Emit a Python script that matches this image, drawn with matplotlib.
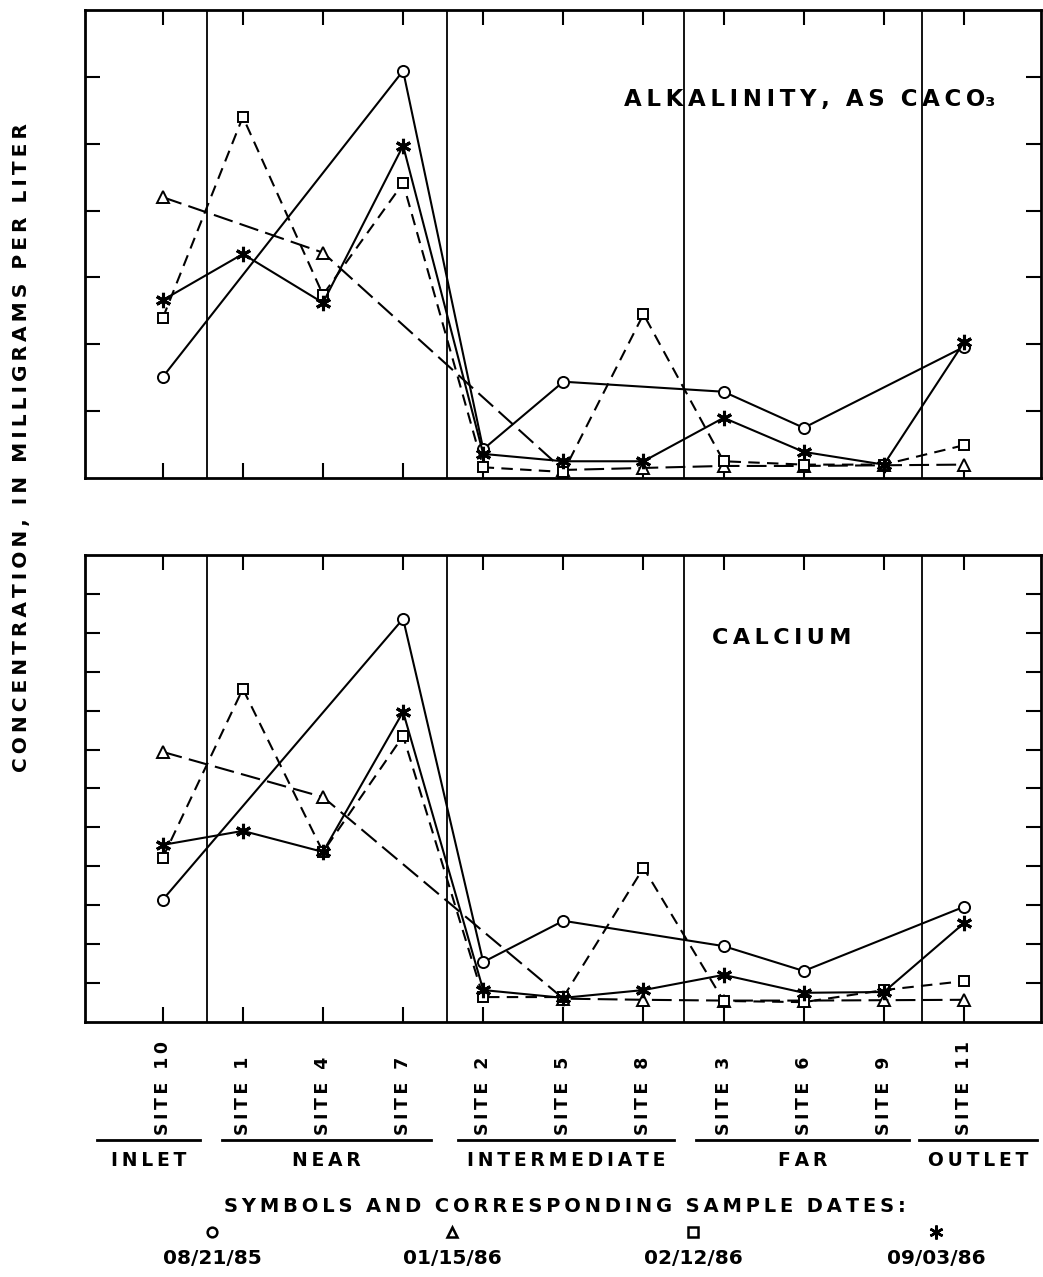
import matplotlib
matplotlib.use("Agg")
import matplotlib.pyplot as plt
import numpy as np
from matplotlib.lines import Line2D

nan = np.nan

sites = ["SITE 10", "SITE 1", "SITE 4", "SITE 7", "SITE 2", "SITE 5",
         "SITE 8", "SITE 3", "SITE 6", "SITE 9", "SITE 11"]
groups = ["INLET", "NEAR", "INTERMEDIATE", "FAR", "OUTLET"]
dates = ["08/21/85", "01/15/86", "02/12/86", "09/03/86"]

# concentrations, in units of one y-axis tick
alk_aug85 = [1.51, nan, nan, 6.09, 0.43, 1.44, nan, 1.29, 0.75, nan, 1.96]
alk_jan86 = [4.20, nan, 3.37, nan, nan, 0.12, 0.15, 0.18, 0.18, 0.19, 0.20]
alk_feb86 = [2.39, 5.40, 2.74, 4.41, 0.16, 0.09, 2.45, 0.25, 0.20, 0.20, 0.49]
alk_sep86 = [2.66, 3.35, 2.62, 4.97, 0.36, 0.25, 0.25, 0.90, 0.39, 0.20, 2.03]

ca_aug85 = [3.14, nan, nan, 10.36, 1.54, 2.60, nan, 1.95, 1.31, nan, 2.96]
ca_jan86 = [6.94, nan, 5.78, nan, nan, 0.60, 0.57, 0.55, 0.55, 0.56, 0.57]
ca_feb86 = [4.22, 8.56, 4.37, 7.35, 0.64, 0.64, 3.96, 0.54, 0.51, 0.82, 1.05]
ca_sep86 = [4.55, 4.91, 4.37, 7.97, 0.82, 0.62, 0.82, 1.21, 0.75, 0.77, 2.54]

plt.rcParams["font.family"] = "DejaVu Sans"
plt.rcParams["font.weight"] = "bold"


def spaced(s):
    # wide lettering: thin space between characters
    return "\u2009".join(s)


x = np.arange(len(sites))
zone_edges = [0.55, 3.55, 6.5, 9.47]
zone_spans = [(-0.82, 0.46), (0.74, 3.35), (3.68, 6.38), (6.66, 9.31), (9.44, 10.91)]

styles = [
    dict(ls="-", marker="o", ms=8, mfc="white"),
    dict(ls=(0, (9.5, 3.5)), marker="^", ms=8, mfc="white"),
    dict(ls=(0, (5.5, 3.5)), marker="s", ms=7, mfc="white"),
    dict(ls="-", marker=(6, 2, 0), ms=11, mew=2.2),
]


def draw_panel(ax, series, ymax, label, label_xy, size):
    for vals, st in zip(series, styles):
        st = dict(st)
        vals = np.array(vals)
        ok = ~np.isnan(vals)
        ax.plot(x[ok], vals[ok], color="black", lw=1.5, mec="black",
                mew=st.pop("mew", 1.4), **st)
    for e in zone_edges:
        ax.axvline(e, color="black", lw=1.3)
    ax.set_xlim(-0.97, 10.96)
    ax.set_ylim(0, ymax)
    ax.set_xticks(x)
    ax.set_yticks(np.arange(1, ymax))
    ax.tick_params(direction="in", length=11, width=1.5, top=True, right=True,
                   labelleft=False, labelbottom=False)
    for s in ax.spines.values():
        s.set_linewidth(2)
    ax.text(label_xy[0], label_xy[1], label, transform=ax.transAxes,
            ha="center", va="center", fontsize=size)


fig = plt.figure(figsize=(10.43, 12.77), dpi=100)
ax1 = fig.add_axes([0.0815, 0.6257, 0.9165, 0.3665])
ax2 = fig.add_axes([0.0815, 0.1997, 0.9165, 0.3657])

draw_panel(ax1, [alk_aug85, alk_jan86, alk_feb86, alk_sep86], 7,
           spaced("ALKALINITY,") + "  " + spaced("AS") + "  " + spaced("CACO") + "\u2083",
           (0.758, 0.808), 16.5)
draw_panel(ax2, [ca_aug85, ca_jan86, ca_feb86, ca_sep86], 12,
           spaced("CALCIUM"), (0.729, 0.822), 16)

trans = ax2.get_xaxis_transform()

# site names, bottom-aligned just above the zone underlines
for xi, name in zip(x, sites):
    ax2.text(xi, -0.242, spaced(name), transform=trans, rotation=90,
             ha="center", va="bottom", fontsize=12.5)

for name, (a, b) in zip(groups, zone_spans):
    ax2.add_line(Line2D([a, b], [-0.2527, -0.2527], transform=trans,
                        color="black", lw=2, clip_on=False))
    ax2.text((a + b) / 2, -0.296, spaced(name), transform=trans, ha="center",
             va="center", fontsize=13.5)

fig.text(0.021, 1 - 448 / 1277,
         "  ".join(spaced(w) for w in ["CONCENTRATION,", "IN", "MILLIGRAMS", "PER", "LITER"]),
         rotation=90, ha="center", va="center", fontsize=14.5)

fig.text(565 / 1043, 1 - 1206 / 1277,
         "  ".join(spaced(w) for w in ["SYMBOLS", "AND", "CORRESPONDING", "SAMPLE", "DATES:"]),
         ha="center", va="center", fontsize=14)

legend_x = [212, 452, 693, 936]
for i, (d, st) in enumerate(zip(dates, styles)):
    fx = legend_x[i] / 1043
    fig.add_artist(Line2D([fx], [1 - 1232 / 1277], transform=fig.transFigure,
                          marker=st["marker"], ms=7 if i < 3 else 10,
                          mfc="white", mec="black", mew=1.8, ls="none"))
    fig.text(fx, 1 - 1258 / 1277, d, ha="center", va="center", fontsize=14.5)

fig.savefig("out.png", dpi=100)
